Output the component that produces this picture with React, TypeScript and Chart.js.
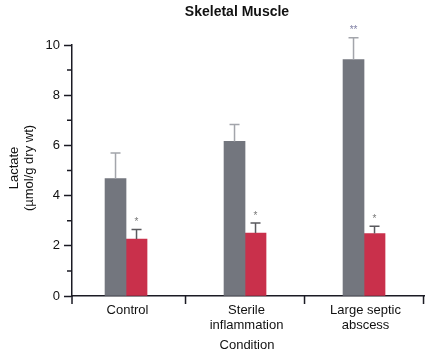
import React, { useEffect, useRef } from "react";
import { Chart, registerables } from "chart.js";

Chart.register(...registerables);

const categories: string[][] = [["Control"], ["Sterile", "inflammation"], ["Large septic", "abscess"]];
const normalValues = [4.68, 6.16, 9.42];
const normalErrorTop = [5.7, 6.83, 10.29];
const treatedValues = [2.27, 2.51, 2.49];
const treatedErrorTop = [2.65, 2.91, 2.78];
const normalMarks = ["", "", "**"];
const treatedMarks = ["*", "*", "*"];
const yTicks = [0, 2, 4, 6, 8, 10];
const xBoundaries = [0.5, 1.5, 2.5];
const chartTitle = "Skeletal Muscle";
const yTitleLines = ["Lactate", "(\u00b5mol/g dry wt)"];
const xTitle = "Condition";

const FONT = '"Liberation Sans", Arial, Helvetica, sans-serif';
const AXIS = "#1b1b24";

const overlayPlugin = {
  id: "overlay",
  afterDatasetsDraw(chart: any) {
    const ctx = chart.ctx;
    const y = chart.scales.y;
    const x = chart.scales.x;
    const area = chart.chartArea;
    ctx.save();
    const errs = [normalErrorTop, treatedErrorTop];
    const marks = [normalMarks, treatedMarks];
    const errColors = ["#a3a5ab", "#5a5a5e"];
    const markColors = ["#7f7fa4", "#777777"];
    for (let d = 0; d < 2; d++) {
      const meta = chart.getDatasetMeta(d);
      meta.data.forEach((bar: any, i: number) => {
        const cx = bar.x;
        const top = y.getPixelForValue(errs[d][i]);
        ctx.strokeStyle = errColors[d];
        ctx.lineWidth = 1.5;
        ctx.beginPath();
        ctx.moveTo(cx, bar.y);
        ctx.lineTo(cx, top);
        ctx.moveTo(cx - 5, top);
        ctx.lineTo(cx + 5, top);
        ctx.stroke();
        if (marks[d][i]) {
          ctx.fillStyle = markColors[d];
          ctx.font = "10px " + FONT;
          ctx.textAlign = "center";
          ctx.textBaseline = "middle";
          ctx.fillText(marks[d][i], cx, top - 7);
        }
      });
    }
    ctx.strokeStyle = AXIS;
    ctx.lineWidth = 1.5;
    ctx.beginPath();
    for (let v = 1; v < 10; v += 2) {
      const py = y.getPixelForValue(v);
      ctx.moveTo(area.left - 5, py);
      ctx.lineTo(area.left, py);
    }
    ctx.moveTo(area.left, area.bottom);
    ctx.lineTo(area.left, area.bottom + 8);
    xBoundaries.forEach((b) => {
      const px = x.getPixelForValue(b);
      ctx.moveTo(px, area.bottom);
      ctx.lineTo(px, area.bottom + 8);
    });
    ctx.stroke();
    ctx.fillStyle = "#111";
    ctx.textAlign = "center";
    ctx.textBaseline = "middle";
    ctx.font = "13px " + FONT;
    categories.forEach((lines, i) => {
      const px = x.getPixelForValue(i) + 1.5;
      lines.forEach((ln, j) => ctx.fillText(ln, px, 310 + j * 15));
    });
    ctx.fillText(xTitle, 247, 345);
    ctx.save();
    ctx.translate(14, 168);
    ctx.rotate(-Math.PI / 2);
    ctx.fillText(yTitleLines[0], 0, 0);
    ctx.restore();
    ctx.save();
    ctx.translate(29, 168);
    ctx.rotate(-Math.PI / 2);
    ctx.fillText(yTitleLines[1], 0, 0);
    ctx.restore();
    ctx.font = "bold 14px " + FONT;
    ctx.fillText(chartTitle, 237, 12);
    ctx.restore();
  },
};

export default function App() {
  const ref = useRef<HTMLCanvasElement>(null);
  useEffect(() => {
    if (!ref.current) return;
    const chart = new Chart(ref.current, {
      type: "bar",
      data: {
        datasets: [
          {
            label: "Normal",
            data: normalValues.map((v, i) => ({ x: i, y: v })),
            backgroundColor: "#73767e",
            borderWidth: 0,
            barThickness: 21,
          },
          {
            label: "Treated",
            data: treatedValues.map((v, i) => ({ x: i, y: v })),
            backgroundColor: "#c9304b",
            borderWidth: 0,
            barThickness: 21,
          },
        ],
      },
      options: {
        animation: false,
        responsive: false,
        maintainAspectRatio: false,
        layout: { padding: { top: 45, right: 8, left: 0, bottom: 0 } },
        plugins: { legend: { display: false }, tooltip: { enabled: false }, title: { display: false } },
        scales: {
          x: {
            type: "linear",
            offset: false,
            min: -0.454,
            max: 2.504,
            grid: { display: false },
            border: { display: true, color: AXIS, width: 1.5 },
            ticks: { display: false },
            afterFit(scale: any) {
              scale.height = 60;
            },
          },
          y: {
            min: 0,
            max: 10,
            afterBuildTicks(scale: any) {
              scale.ticks = yTicks.map((v) => ({ value: v }));
            },
            grid: {
              display: true,
              drawOnChartArea: false,
              drawTicks: true,
              tickLength: 8,
              tickColor: AXIS,
              tickWidth: 1.5,
            },
            border: { display: true, color: AXIS, width: 1.5 },
            ticks: {
              color: "#111",
              font: { family: FONT, size: 13 },
              padding: 4,
            },
            afterFit(scale: any) {
              scale.width = 72;
            },
          },
        },
      },
      plugins: [overlayPlugin],
    });
    return () => chart.destroy();
  }, []);
  return (
    <div style={{ position: "fixed", left: 0, top: 0, width: 432, height: 356, background: "#fff" }}>
      <canvas ref={ref} width={432} height={356} style={{ width: 432, height: 356 }} />
    </div>
  );
}
